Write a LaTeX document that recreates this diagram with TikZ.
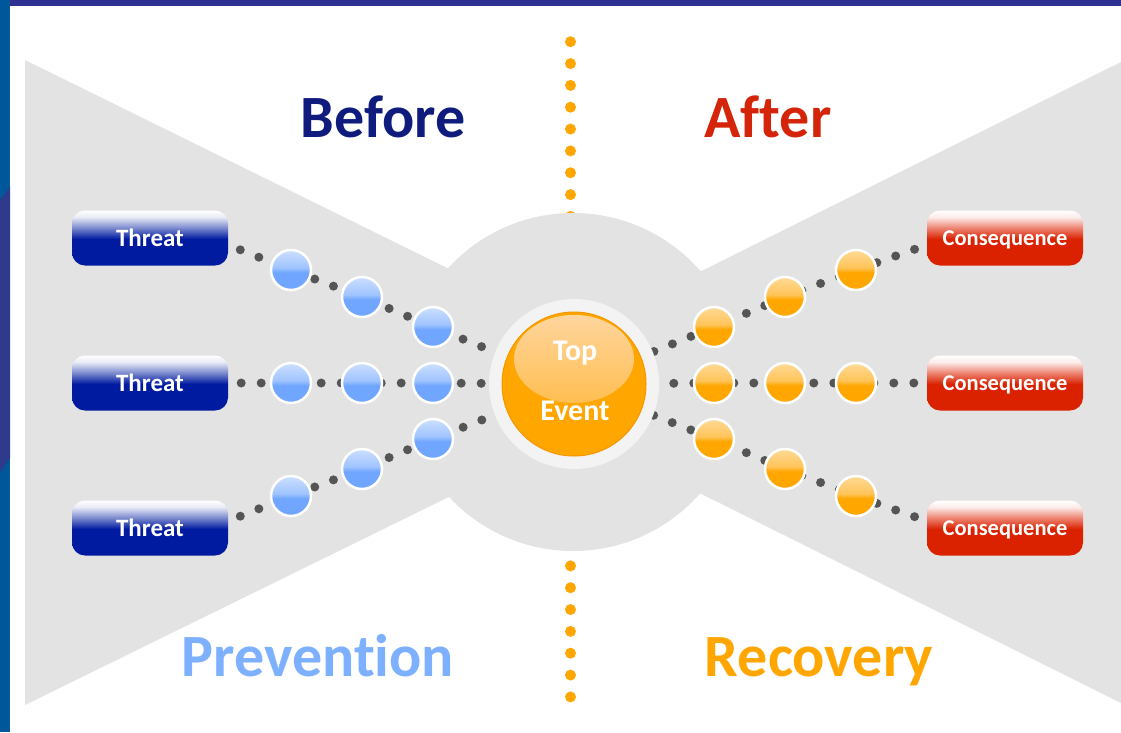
\documentclass[tikz,border=0pt]{standalone}
\usepackage{fontspec}
\setmainfont[Ligatures=NoCommon]{Carlito}
\usetikzlibrary{calc}
\definecolor{bowgray}{RGB}{227,227,227}
\definecolor{ringwhite}{RGB}{243,243,243}
\definecolor{tblue}{RGB}{0,26,160}
\definecolor{tbluemid}{RGB}{120,135,205}
\definecolor{tbluelt}{RGB}{232,234,246}
\definecolor{cred}{RGB}{218,34,0}
\definecolor{credmid}{RGB}{236,130,112}
\definecolor{credlt}{RGB}{252,236,234}
\definecolor{ballblue}{RGB}{112,166,255}
\definecolor{ballbluemid}{RGB}{160,196,255}
\definecolor{ballbluelt}{RGB}{205,223,255}
\definecolor{ballor}{RGB}{255,166,0}
\definecolor{ballormid}{RGB}{255,196,90}
\definecolor{ballorlt}{RGB}{255,218,150}
\definecolor{oredge}{RGB}{246,150,0}
\definecolor{orhltop}{RGB}{255,214,160}
\definecolor{orhlbot}{RGB}{255,176,35}
\definecolor{dotgray}{RGB}{85,85,85}
\definecolor{navy}{RGB}{15,28,125}
\definecolor{aftred}{RGB}{212,36,10}
\definecolor{prevblue}{RGB}{125,176,255}
\definecolor{recor}{RGB}{255,166,0}
\definecolor{stripblue}{RGB}{0,87,154}
\definecolor{stripviolet}{RGB}{46,58,140}
\definecolor{topstrip}{RGB}{46,49,146}
\pgfdeclareverticalshading{glossthreat}{100bp}{color(0bp)=(tblue); color(25bp)=(tblue); color(49bp)=(tblue); color(59bp)=(tbluemid); color(69bp)=(tbluelt); color(75bp)=(white); color(100bp)=(white)}
\pgfdeclareverticalshading{glosscons}{100bp}{color(0bp)=(cred); color(25bp)=(cred); color(49bp)=(cred); color(59bp)=(credmid); color(69bp)=(credlt); color(75bp)=(white); color(100bp)=(white)}
\pgfdeclareverticalshading{ballblueshade}{100bp}{color(0bp)=(ballblue); color(25bp)=(ballblue); color(47bp)=(ballblue); color(53bp)=(ballbluemid); color(75bp)=(ballbluelt); color(100bp)=(ballbluelt)}
\pgfdeclareverticalshading{ballorshade}{100bp}{color(0bp)=(ballor); color(25bp)=(ballor); color(47bp)=(ballor); color(53bp)=(ballormid); color(75bp)=(ballorlt); color(100bp)=(ballorlt)}
\pgfdeclarelayer{bg}
\pgfdeclarelayer{mid}
\pgfsetlayers{bg,mid,main}
\begin{document}
\begin{tikzpicture}[x=1pt,y=-1pt,
  threatbox/.style={rounded corners=13pt, minimum width=156pt, minimum height=55pt, inner sep=0pt, shading=glossthreat, text=white, text depth=0pt, font={\fontsize{25}{30}\selectfont\bfseries}},
  consbox/.style={rounded corners=13pt, minimum width=156pt, minimum height=55pt, inner sep=0pt, shading=glosscons, text=white, text depth=0pt, font={\fontsize{22.5}{27}\selectfont\bfseries}},
  bballs/.style={circle, minimum size=40pt, inner sep=0pt, draw=white, line width=2.5pt, shading=ballblueshade},
  oballs/.style={circle, minimum size=40pt, inner sep=0pt, draw=white, line width=2.5pt, shading=ballorshade},
  dotline/.style={draw=dotgray, line width=9pt, line cap=round, dash pattern=on 0pt off 20pt, dash phase=7pt},
  divline/.style={draw=recor, line width=11pt, line cap=round, dash pattern=on 0pt off 21.84pt},
  bigtitle/.style={anchor=base, inner sep=0pt, font={\fontsize{60}{60}\selectfont\bfseries}},
  tetext/.style={text=white, inner sep=0pt, anchor=base, font={\fontsize{30}{30}\selectfont\bfseries}}
]
\useasboundingbox (0,0) rectangle (1121,732);
\begin{pgfonlayer}{bg}
  \fill[white] (0,0) rectangle (1121,732);
  \fill[topstrip] (0,0) rectangle (1121,6);
  \fill[stripblue] (0,0) rectangle (10,732);
  \fill[stripviolet] (0,200) -- (10,187) -- (10,458) -- (0,472) -- cycle;
  % bowtie wings
  \fill[bowgray] (25,60) -- (573,330) -- (573,436) -- (25,705) -- cycle;
  \fill[bowgray] (1121,62) -- (573,335) -- (573,430) -- (1121,703) -- cycle;
  % divider
  \coordinate (dtop) at (570.5,41.7);
  \coordinate (dbot) at (570.5,697);
  \draw[divline] (dtop) -- (dbot);
  % central disc
  \fill[bowgray] (573,382) circle[radius=169pt];
\end{pgfonlayer}

% titles
\node[bigtitle, text=navy] (before) at (383,137) {Before};
\node[bigtitle, text=aftred] (after) at (768,137) {After};
\node[bigtitle, text=prevblue] (prev) at (318,676) {Prevention};
\node[bigtitle, text=recor] (recov) at (819,676) {Recovery};

% top event
\node[circle, minimum size=170pt, inner sep=0pt, fill=ringwhite] (ring) at (574,384) {};
\node[circle, minimum size=144pt, inner sep=0pt, fill=ballor, draw=oredge, line width=1pt,
  path picture={\shade[top color=orhltop, bottom color=orhlbot] ($(path picture bounding box.center)+(0,-25)$) ellipse[x radius=60pt, y radius=44pt];}] (te) at (574,384) {};
\node[tetext] (tetop) at (575,360) {Top};
\node[tetext] (teevent) at (575,420) {Event};

% threats
\node[threatbox] (t1) at (150,238) {Threat};
\node[threatbox] (t2) at (150,383) {Threat};
\node[threatbox] (t3) at (150,528) {Threat};
% consequences
\node[consbox] (c1) at (1005,238) {Consequence};
\node[consbox] (c2) at (1005,383) {Consequence};
\node[consbox] (c3) at (1005,528) {Consequence};

% barriers
\node[bballs] (b11) at (291,270) {};
\node[bballs] (b12) at (362,297) {};
\node[bballs] (b13) at (433,327) {};
\node[bballs] (b21) at (291,383) {};
\node[bballs] (b22) at (362,383) {};
\node[bballs] (b23) at (433,383) {};
\node[bballs] (b31) at (291,496) {};
\node[bballs] (b32) at (362,469) {};
\node[bballs] (b33) at (433,439) {};
\node[oballs] (o11) at (714,327) {};
\node[oballs] (o12) at (785,297) {};
\node[oballs] (o13) at (856,270) {};
\node[oballs] (o21) at (714,383) {};
\node[oballs] (o22) at (785,383) {};
\node[oballs] (o23) at (856,383) {};
\node[oballs] (o31) at (714,439) {};
\node[oballs] (o32) at (785,469) {};
\node[oballs] (o33) at (856,496) {};

\coordinate (t1e) at ([yshift=-7pt]t1.east);
\coordinate (t2e) at (t2.east);
\coordinate (t3e) at ([yshift=7pt]t3.east);
\coordinate (c1w) at ([yshift=-7pt]c1.west);
\coordinate (c2w) at (c2.west);
\coordinate (c3w) at ([yshift=7pt]c3.west);

\begin{pgfonlayer}{mid}
  \draw[dotline] (t1e) -- (b11.center) -- (b12.center) -- (b13.center) -- (te.center);
  \draw[dotline] (t2e) -- (b21.center) -- (b22.center) -- (b23.center) -- (te.center);
  \draw[dotline] (t3e) -- (b31.center) -- (b32.center) -- (b33.center) -- (te.center);
  \draw[dotline] (c1w) -- (o13.center) -- (o12.center) -- (o11.center) -- (te.center);
  \draw[dotline] (c2w) -- (o23.center) -- (o22.center) -- (o21.center) -- (te.center);
  \draw[dotline] (c3w) -- (o33.center) -- (o32.center) -- (o31.center) -- (te.center);
\end{pgfonlayer}
\end{tikzpicture}
\end{document}
